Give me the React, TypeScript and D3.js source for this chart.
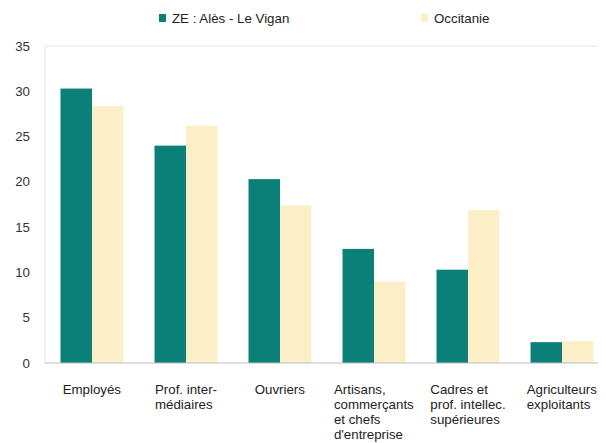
import React, { useEffect, useRef } from 'react';
import * as d3 from 'd3';

const categories = [
  ['Employés'],
  ['Prof. inter-', 'médiaires'],
  ['Ouvriers'],
  ['Artisans,', 'commerçants', 'et chefs', "d'entreprise"],
  ['Cadres et', 'prof. intellec.', 'supérieures'],
  ['Agriculteurs', 'exploitants'],
];
const zeValues = [30.3, 24.0, 20.3, 12.6, 10.3, 2.3];
const occitanieValues = [28.4, 26.2, 17.4, 9.0, 16.9, 2.4];
const seriesNames = ['ZE : Alès - Le Vigan', 'Occitanie'];
const yTicks = [0, 5, 10, 15, 20, 25, 30, 35];

const W = 606;
const H = 443;
const colors = ['#0a8078', '#fcefc8'];

const App: React.FC = () => {
  const ref = useRef<SVGSVGElement>(null);

  useEffect(() => {
    const svg = d3.select(ref.current);
    svg.selectAll('*').remove();

    const left = 45;
    const top = 46;
    const bottom = 363;

    const x = d3.scaleBand<number>()
      .domain(d3.range(categories.length))
      .range([left, left + 94 * 6])
      .paddingInner(0.33)
      .paddingOuter(0.165);
    const y = d3.scaleLinear().domain([0, 35]).range([bottom, top]);
    const barW = x.bandwidth() / 2;

    const font = 'Liberation Sans, Arial, sans-serif';

    // top line and axis
    svg.append('line')
      .attr('x1', left).attr('x2', 598)
      .attr('y1', y(35)).attr('y2', y(35))
      .attr('stroke', '#e4e4e4');
    svg.append('line')
      .attr('x1', left).attr('x2', left)
      .attr('y1', y(35)).attr('y2', y(0))
      .attr('stroke', '#e4e4e4');

    svg.append('g')
      .selectAll('text')
      .data(yTicks)
      .enter()
      .append('text')
      .attr('x', 30)
      .attr('y', d => y(d) + 4.5)
      .attr('text-anchor', 'end')
      .attr('font-family', font)
      .attr('font-size', 13.3)
      .attr('fill', '#333')
      .text(d => d);

    const groups = svg.append('g');
    [zeValues, occitanieValues].forEach((vals, s) => {
      groups.selectAll(`.bar-${s}`)
        .data(vals)
        .enter()
        .append('rect')
        .attr('x', (d, i) => x(i)! + s * barW)
        .attr('y', d => y(d))
        .attr('width', barW)
        .attr('height', d => y(0) - y(d))
        .attr('fill', colors[s]);
    });

    svg.append('line')
      .attr('x1', left).attr('x2', 598)
      .attr('y1', y(0)).attr('y2', y(0))
      .attr('stroke', '#bdbdbd');

    // category labels: left aligned block centred on the group
    categories.forEach((lines, i) => {
      const t = svg.append('text')
        .attr('font-family', font)
        .attr('font-size', 13.3)
        .attr('fill', '#222');
      lines.forEach((l, j) => {
        t.append('tspan').attr('x', 0).attr('y', 394 + j * 15).text(l);
      });
      const w = (t.node() as SVGTextElement).getBBox().width;
      const cx = x(i)! + x.bandwidth() / 2;
      t.attr('transform', `translate(${cx - w / 2},0)`);
    });

    // legend
    const legendX = [159, 421];
    seriesNames.forEach((name, s) => {
      svg.append('rect')
        .attr('x', legendX[s]).attr('y', 14)
        .attr('width', 7).attr('height', 8)
        .attr('fill', colors[s]);
      svg.append('text')
        .attr('x', legendX[s] + 13).attr('y', 23)
        .attr('font-family', font)
        .attr('font-size', 13.3)
        .attr('fill', '#222')
        .text(name);
    });
  }, []);

  return <svg ref={ref} width={W} height={H} style={{ position: 'absolute', left: 0, top: 0 }} />;
};

export default App;
